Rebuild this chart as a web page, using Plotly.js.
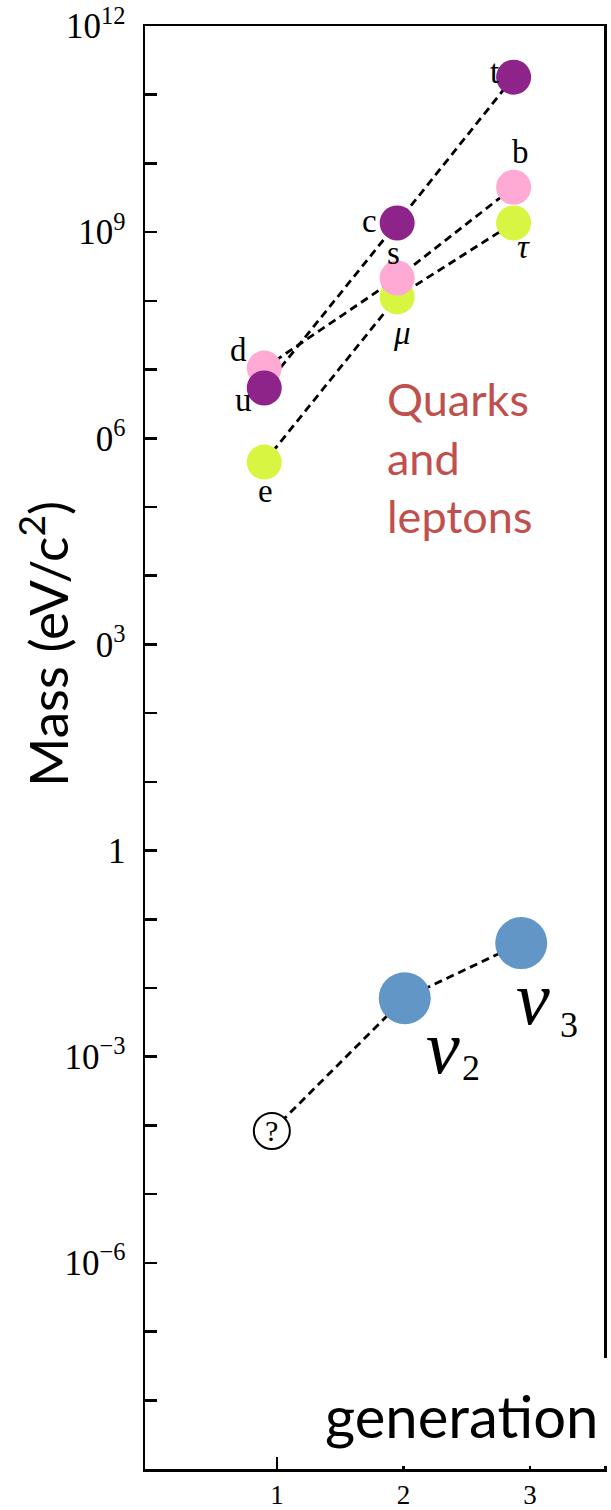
<!DOCTYPE html>
<html>
<head>
<meta charset="utf-8">
<script src="https://cdn.plot.ly/plotly-3.0.1.min.js"></script>
<style>html,body{margin:0;padding:0;background:#fff}#chart{width:611px;height:1510px}</style>
</head>
<body>
<div id="chart"></div>
<script>
// ---- data ----
const generations = [1, 2, 3];
const generationLabels = ['1', '2', '3'];

const upNames = ['u', 'c', 't'];
const upX = [0.90, 1.95, 2.87];
const upMass = [5.4e6, 1.36e9, 1.8e11];

const downNames = ['d', 's', 'b'];
const downX = [0.90, 1.95, 2.87];
const downMass = [1.05e7, 2.15e8, 4.5e9];

const leptonNames = ['e', '<i>μ</i>', '<i>τ</i>'];
const leptonX = [0.90, 1.95, 2.87];
const leptonMass = [4.5e5, 1.14e8, 1.36e9];

const nuNames = ['?', '<i>ν</i>', '<i>ν</i>'];
const nuSubs = ['', '2', '3'];
const nuX = [0.96, 2.01, 2.93];
const nuMass = [8.3e-5, 7.1e-3, 4.5e-2];

const yTickVals = [1e-9, 1e-8, 1e-7, 1e-6, 1e-5, 1e-4, 1e-3, 1e-2, 1e-1, 1,
                   1e1, 1e2, 1e3, 1e4, 1e5, 1e6, 1e7, 1e8, 1e9, 1e10, 1e11, 1e12];
const yTickText = ['', '', '', '10<sup>−6</sup>', '', '', '10<sup>−3</sup>', '', '', '1',
                   '', '', '10<sup>3</sup>', '', '', '10<sup>6</sup>', '', '', '10<sup>9</sup>', '', '', '10<sup>12</sup>'];

const yTitle = 'Mass (eV/c<sup>2</sup>)';
const xTitle = 'generation';
const noteText = 'Quarks<br>and<br>leptons';

// ---- styles ----
const C_UP = '#8E2389', C_DOWN = '#FFAAD5', C_LEP = '#D8F542', C_NU = '#6196C7';
const dashLine = {color: '#000', width: 2.8, dash: '8px,5px'};
const serif = 'Liberation Serif, Times New Roman, serif';
const sans = 'Lato, Open Sans, sans-serif';

function lineTrace(x, y) {
  return {x: x, y: y, mode: 'lines', line: dashLine, hoverinfo: 'skip'};
}
function markerTrace(x, y, color, size) {
  return {x: x, y: y, mode: 'markers', marker: {color: color, size: size, line: {width: 0}}, hoverinfo: 'skip'};
}

const traces = [
  lineTrace(upX, upMass),
  lineTrace(downX, downMass),
  lineTrace(leptonX, leptonMass),
  lineTrace(nuX, nuMass),
  markerTrace(leptonX, leptonMass, C_LEP, 35),
  markerTrace(downX, downMass, C_DOWN, 35),
  markerTrace(upX, upMass, C_UP, 35),
  markerTrace(nuX.slice(1), nuMass.slice(1), C_NU, 52),
  {x: nuX.slice(0, 1), y: nuMass.slice(0, 1), mode: 'markers',
   marker: {color: '#fff', size: 36, line: {color: '#000', width: 2}}, hoverinfo: 'skip'}
];

// label offsets in pixels (dx right, dy up)
const upOff = [[-21, -12], [-28, 2], [-19, 5]];
const downOff = [[-26, 18], [-4, 25], [7, 35]];
const lepOff = [[1, -29], [5, -36], [10, -24]];
const nuOff = [[0, 0], [38, -49], [12, -55]];
const nuSubOff = [[0, 0], [66, -70], [48, -82]];

const annotations = [];
function addLabels(names, xs, ys, offs, size) {
  names.forEach((n, i) => {
    annotations.push({x: xs[i], y: Math.log10(ys[i]), xref: 'x', yref: 'y', text: n,
      showarrow: false, xshift: offs[i][0], yshift: offs[i][1],
      font: {family: serif, size: size, color: '#000'}});
  });
}
addLabels(upNames, upX, upMass, upOff, 33);
addLabels(downNames, downX, downMass, downOff, 33);
addLabels(leptonNames, leptonX, leptonMass, lepOff, 33);
addLabels(nuNames.slice(0, 1), nuX.slice(0, 1), nuMass.slice(0, 1), nuOff.slice(0, 1), 30);
addLabels(nuNames.slice(1), nuX.slice(1), nuMass.slice(1), nuOff.slice(1), 76);
addLabels(nuSubs.slice(1), nuX.slice(1), nuMass.slice(1), nuSubOff.slice(1), 36);

annotations.push({xref: 'paper', yref: 'paper', x: -0.222, y: 0.572, text: yTitle, textangle: -90,
  showarrow: false, xanchor: 'center', yanchor: 'middle', font: {family: sans, size: 53, color: '#000'}});
annotations.push({xref: 'paper', yref: 'paper', x: 0.6895, y: 0.0374, text: xTitle,
  showarrow: false, xanchor: 'center', yanchor: 'middle', font: {family: sans, size: 58, color: '#000'}});
annotations.push({xref: 'paper', yref: 'paper', x: 0.523, y: 0.7616, text: noteText, align: 'left',
  showarrow: false, xanchor: 'left', yanchor: 'top', font: {family: sans, size: 45, color: '#C0504D'}});

// white boxes of the pasted text (cover parts of the scanned figure)
const W = 459, H = 1443, L = 145, T = 26;
function px2paperX(p) { return (p - L) / W; }
function px2paperY(p) { return 1 - (p - T) / H; }
const shapes = [
  {type: 'rect', xref: 'paper', yref: 'paper', layer: 'above', line: {width: 0}, fillcolor: '#fff',
   x0: px2paperX(0), x1: px2paperX(94), y0: px2paperY(670), y1: px2paperY(415)},
  {type: 'rect', xref: 'paper', yref: 'paper', layer: 'above', line: {width: 0}, fillcolor: '#fff',
   x0: px2paperX(318), x1: px2paperX(615), y0: px2paperY(1466), y1: px2paperY(1358)}
];

const layout = {
  width: 611, height: 1510,
  margin: {l: 145, r: 7, t: 26, b: 41, pad: 0},
  paper_bgcolor: '#fff', plot_bgcolor: '#fff',
  showlegend: false,
  xaxis: {range: [-0.042, 3.584], tickmode: 'array', tickvals: generations, ticktext: generationLabels,
    ticks: 'inside', ticklen: 12, tickwidth: 2.5, tickcolor: '#000',
    showline: true, linecolor: '#000', linewidth: 2.5, mirror: true,
    showgrid: false, zeroline: false, ticklabelstandoff: 0,
    tickfont: {family: serif, size: 27, color: '#000'}},
  yaxis: {type: 'log', range: [-9, 12], tickmode: 'array', tickvals: yTickVals, ticktext: yTickText,
    ticks: 'inside', ticklen: 12, tickwidth: 2.5, tickcolor: '#000',
    showline: true, linecolor: '#000', linewidth: 2.5, mirror: true,
    showgrid: false, zeroline: false, ticklabelstandoff: 10,
    tickfont: {family: serif, size: 35, color: '#000'}},
  shapes: shapes,
  annotations: annotations
};

Plotly.newPlot('chart', traces, layout, {staticPlot: true, displayModeBar: false});
</script>
</body>
</html>
